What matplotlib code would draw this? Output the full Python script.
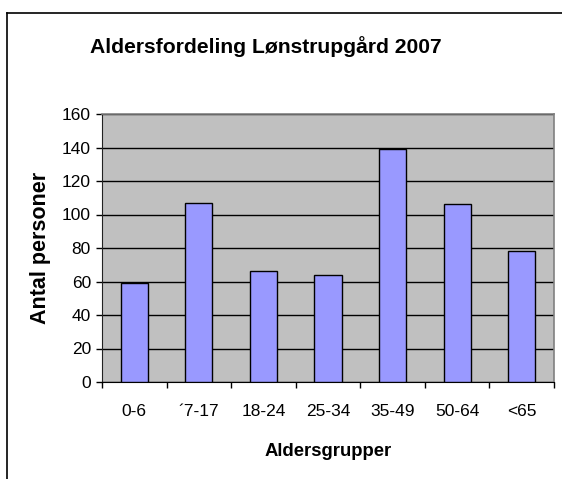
import matplotlib

matplotlib.use("Agg")
import matplotlib.pyplot as plt
from matplotlib.lines import Line2D
import numpy as np

plt.rcParams["font.family"] = ["Liberation Sans", "DejaVu Sans"]

# data
groups = ["0-6", "\u00b47-17", "18-24", "25-34", "35-49", "50-64", "<65"]
persons = [59, 107, 66, 64, 139, 106, 78]
y_ticks = [0, 20, 40, 60, 80, 100, 120, 140, 160]

W, H = 562, 479
fig = plt.figure(figsize=(W / 100, H / 100), dpi=100)
ax = fig.add_axes([102 / W, 1 - 382 / H, (554 - 102) / W, (382 - 114) / H])

x = np.arange(len(groups))
ax.set_facecolor("#C0C0C0")
ax.bar(x, persons, width=0.42, color="#9999FF", edgecolor="black",
       linewidth=1.0, zorder=3)

ax.set_ylim(0, 160)
ax.set_xlim(-0.5, len(groups) - 0.5)
ax.set_yticks(y_ticks)
ax.yaxis.grid(True, color="black", linewidth=1.0, zorder=1)
ax.set_axisbelow(True)

ax.set_xticks(x)
ax.set_xticklabels(groups)
ax.set_xticks(np.arange(-0.5, len(groups)), minor=True)
ax.tick_params(axis="x", which="major", length=0, pad=16, labelsize=12.5)
ax.tick_params(axis="x", which="minor", length=4, width=1, color="black")
ax.tick_params(axis="y", length=4, width=1, pad=4, labelsize=12.5)

for side in ("top", "right"):
    ax.spines[side].set_color("#808080")
    ax.spines[side].set_linewidth(1.2)
ax.spines["left"].set_color("#222222")
ax.spines["bottom"].set_color("black")

ax.set_xlabel("Aldersgrupper", fontsize=13.3, fontweight="bold", labelpad=17)
ax.set_ylabel("Antal personer", fontsize=15.5, fontweight="bold", labelpad=8)

fig.text(266 / W, 1 - 47 / H, "Aldersfordeling Lønstrupgård 2007",
         fontsize=15.2, fontweight="bold", ha="center", va="center")

# chart area border (cropped on the right and bottom)
fig.add_artist(Line2D([7 / W, 1.0], [1 - 13 / H, 1 - 13 / H], color="black", linewidth=1.2))
fig.add_artist(Line2D([7 / W, 7 / W], [1 - 13 / H, 0.0], color="black", linewidth=1.2))

fig.savefig("out.png", dpi=100)
